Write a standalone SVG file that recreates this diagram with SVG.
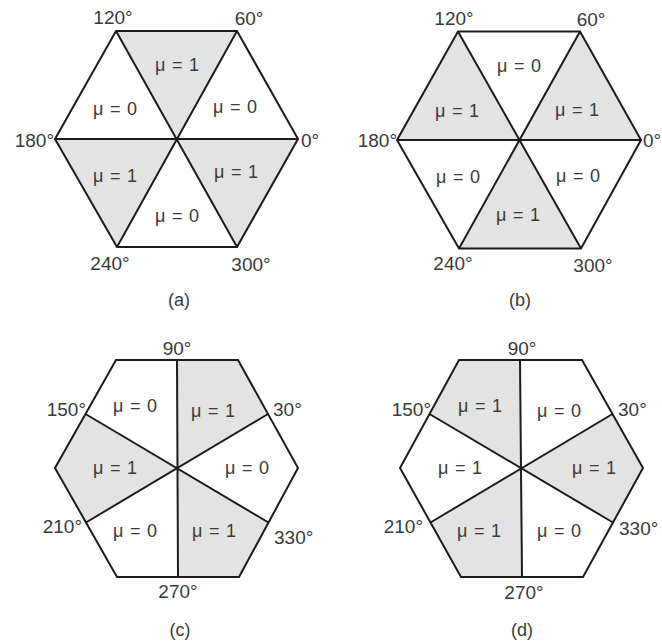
<svg xmlns="http://www.w3.org/2000/svg" width="662" height="643" viewBox="0 0 662 643">
<style>
.bg{fill:#ffffff}
.sh{fill:#e3e3e3;stroke:none}
.ln{fill:none;stroke:#1c1c1c;stroke-width:2;stroke-linejoin:miter}
.t{font-family:"Liberation Sans",Arial,sans-serif;font-size:18px;fill:#3a3a3a}
.m{word-spacing:1.5px;text-anchor:middle}
.g{font-size:19px}
.c{text-anchor:middle}
.e{text-anchor:end}
</style>
<rect class="bg" x="0" y="0" width="662" height="643"/>

<g id="panel-a">
  <polygon class="sh" points="177,139 116,31 237,31"/>
  <polygon class="sh" points="177,139 55,139 117,247"/>
  <polygon class="sh" points="177,139 237,247 298,139"/>
  <polygon class="ln" points="116,31 237,31 298,139 237,247 117,247 55,139"/>
  <path class="ln" d="M116,31 L237,247 M237,31 L117,247 M55,139 L298,139"/>
  <text class="t m" x="177" y="71">μ = 1</text>
  <text class="t m" x="115" y="115">μ = 0</text>
  <text class="t m" x="235" y="113">μ = 0</text>
  <text class="t m" x="115" y="182">μ = 1</text>
  <text class="t m" x="236" y="178">μ = 1</text>
  <text class="t m" x="177" y="222">μ = 0</text>
  <text class="t g c" x="113" y="24">120°</text>
  <text class="t g c" x="249" y="25">60°</text>
  <text class="t g e" x="54" y="147">180°</text>
  <text class="t g" x="301" y="147">0°</text>
  <text class="t g c" x="110" y="270">240°</text>
  <text class="t g c" x="251" y="271">300°</text>
  <text class="t c" x="179" y="306">(a)</text>
</g>

<g id="panel-b">
  <polygon class="sh" points="519,140 458,31.5 397,140"/>
  <polygon class="sh" points="519,140 580,31.5 641,140"/>
  <polygon class="sh" points="519,140 459,248.5 581,248.5"/>
  <polygon class="ln" points="458,31.5 580,31.5 641,140 581,248.5 459,248.5 397,140"/>
  <path class="ln" d="M458,31.5 L581,248.5 M580,31.5 L459,248.5 M397,140 L641,140"/>
  <text class="t m" x="519" y="72">μ = 0</text>
  <text class="t m" x="457" y="117">μ = 1</text>
  <text class="t m" x="577" y="116">μ = 1</text>
  <text class="t m" x="458" y="183">μ = 0</text>
  <text class="t m" x="578" y="182">μ = 0</text>
  <text class="t m" x="518" y="221">μ = 1</text>
  <text class="t g c" x="454" y="25">120°</text>
  <text class="t g c" x="591" y="26">60°</text>
  <text class="t g e" x="397" y="147">180°</text>
  <text class="t g" x="643" y="147">0°</text>
  <text class="t g c" x="453" y="270">240°</text>
  <text class="t g c" x="593" y="272">300°</text>
  <text class="t c" x="520" y="306">(b)</text>
</g>

<g id="panel-c">
  <polygon class="sh" points="177,468 177,360 238,360 268,414"/>
  <polygon class="sh" points="177,468 85.5,414 55,468 86,522.5"/>
  <polygon class="sh" points="177,468 178,577 239,577 268.5,522.5"/>
  <polygon class="ln" points="116,360 238,360 298,468 239,577 117,577 55,468"/>
  <path class="ln" d="M177,360 L178,577 M85.5,414 L268.5,522.5 M268,414 L86,522.5"/>
  <text class="t m" x="135" y="412">μ = 0</text>
  <text class="t m" x="213" y="417">μ = 1</text>
  <text class="t m" x="115" y="474">μ = 1</text>
  <text class="t m" x="247" y="474">μ = 0</text>
  <text class="t m" x="135" y="537">μ = 0</text>
  <text class="t m" x="214" y="537">μ = 1</text>
  <text class="t g c" x="177" y="355">90°</text>
  <text class="t g e" x="86" y="416">150°</text>
  <text class="t g" x="273" y="416">30°</text>
  <text class="t g e" x="82" y="533">210°</text>
  <text class="t g" x="274" y="544">330°</text>
  <text class="t g c" x="178" y="598">270°</text>
  <text class="t c" x="180" y="636">(c)</text>
</g>

<g id="panel-d">
  <polygon class="sh" points="521.5,468 520,360 459,360 429.5,414"/>
  <polygon class="sh" points="521.5,468 612.5,414 643,468 613,522.5"/>
  <polygon class="sh" points="521.5,468 430.5,522.5 461,577 522,577"/>
  <polygon class="ln" points="459,360 582,360 643,468 583,577 461,577 400,468"/>
  <path class="ln" d="M520,360 L522,577 M429.5,414 L613,522.5 M612.5,414 L430.5,522.5"/>
  <text class="t m" x="480" y="412">μ = 1</text>
  <text class="t m" x="559" y="417">μ = 0</text>
  <text class="t m" x="460" y="474">μ = 1</text>
  <text class="t m" x="594" y="474">μ = 1</text>
  <text class="t m" x="479" y="537">μ = 1</text>
  <text class="t m" x="559" y="537">μ = 0</text>
  <text class="t g c" x="522" y="355">90°</text>
  <text class="t g e" x="431" y="416">150°</text>
  <text class="t g" x="618" y="416">30°</text>
  <text class="t g e" x="423" y="533">210°</text>
  <text class="t g" x="619" y="535">330°</text>
  <text class="t g c" x="524" y="599">270°</text>
  <text class="t c" x="522" y="636">(d)</text>
</g>

<g id="connectors"></g>
</svg>
